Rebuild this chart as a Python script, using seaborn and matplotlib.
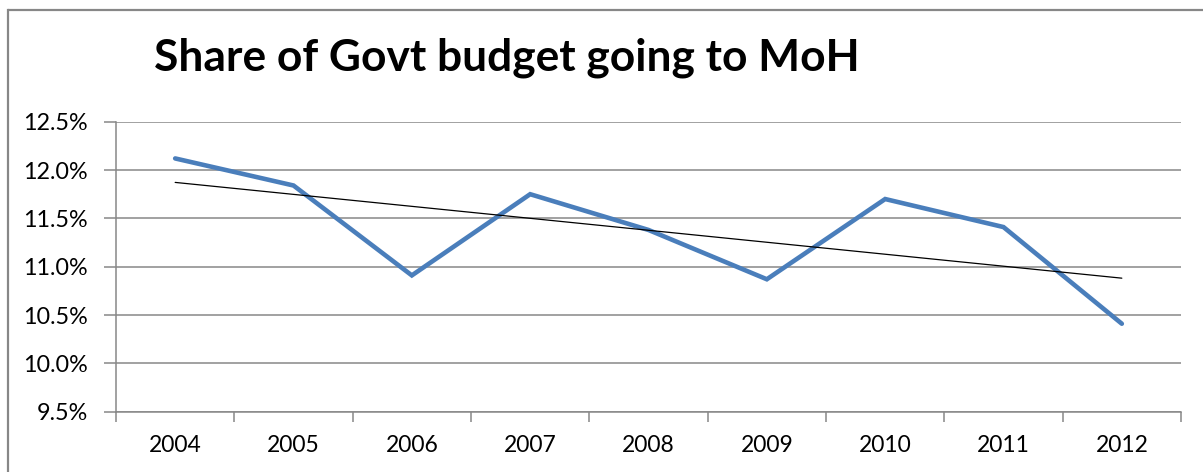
import matplotlib
matplotlib.use("Agg")
import matplotlib.pyplot as plt
from matplotlib.lines import Line2D
from matplotlib.ticker import FixedLocator, FuncFormatter
import pandas as pd
import seaborn as sns

# Share of government budget allocated to the Ministry of Health (%)
years = [2004, 2005, 2006, 2007, 2008, 2009, 2010, 2011, 2012]
share_pct = [12.12, 11.84, 10.91, 11.75, 11.38, 10.87, 11.70, 11.41, 10.41]
y_ticks = [9.5, 10.0, 10.5, 11.0, 11.5, 12.0, 12.5]
title = "Share of Govt budget going to MoH"

df = pd.DataFrame({"year": years, "share": share_pct})

sns.set_theme(style="white")
plt.rcParams["font.family"] = ["Lato", "DejaVu Sans"]

W, H = 1203, 472
fig = plt.figure(figsize=(W / 100, H / 100), dpi=100, frameon=False)
fig.patch.set_facecolor("white")
ax = fig.add_axes([116 / W, 1 - 411.7 / H, (1181 - 116) / W, (411.7 - 121.7) / H])

grey = "#878787"

# data series
sns.lineplot(data=df, x="year", y="share", ax=ax, color="#4A7EBB",
             linewidth=3.3, solid_joinstyle="miter", solid_capstyle="round")
# linear trend
sns.regplot(data=df, x="year", y="share", ax=ax, scatter=False, ci=None,
            truncate=True, color="black", line_kws={"linewidth": 0.9})

ax.set_xlim(years[0] - 0.5, years[-1] + 0.5)
ax.set_ylim(y_ticks[0], y_ticks[-1])
ax.set_xlabel("")
ax.set_ylabel("")

ax.yaxis.set_major_locator(FixedLocator(y_ticks))
ax.yaxis.set_major_formatter(FuncFormatter(lambda v, _: f"{v:.1f}%"))
ax.grid(axis="y", color=grey, linewidth=1.1)
ax.grid(axis="x", visible=False)

ax.set_xticks(years)
ax.set_xticklabels([str(y) for y in years])
ax.set_xticks([y - 0.5 for y in years] + [years[-1] + 0.5], minor=True)
ax.tick_params(axis="x", which="major", length=0, pad=17, labelsize=16.5, labelcolor="black")
ax.tick_params(axis="x", which="minor", length=7, width=1.1, color=grey, direction="out", bottom=True)
ax.tick_params(axis="y", which="major", length=9, width=1.1, color=grey, direction="out",
               left=True, pad=11, labelsize=16.8, labelcolor="black")

for side in ("top", "right"):
    ax.spines[side].set_visible(False)
for side in ("left", "bottom"):
    ax.spines[side].set_color(grey)
    ax.spines[side].set_linewidth(1.1)

# chart frame (left and top edges only; the rest runs off the canvas)
fx, fy = 7.5 / W, 1 - 9.5 / H
fig.add_artist(Line2D([fx, fx], [0, fy], transform=fig.transFigure, color=grey,
                      linewidth=1.6, solid_capstyle="projecting"))
fig.add_artist(Line2D([fx, 1.0], [fy, fy], transform=fig.transFigure, color=grey,
                      linewidth=1.6, solid_capstyle="butt"))

fig.text(506.5 / W, 1 - 70 / H, title, ha="center", va="baseline",
         fontsize=31.9, fontweight="bold", color="black")

fig.savefig("out.png", dpi=100, facecolor="white", edgecolor="none")
